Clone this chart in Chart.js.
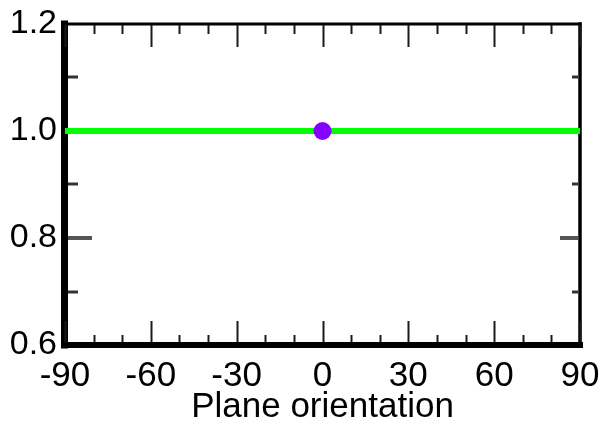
<!DOCTYPE html>
<html>
<head>
<meta charset="utf-8">
<script src="https://cdn.jsdelivr.net/npm/chart.js@4/dist/chart.umd.min.js"></script>
<style>
  html, body { margin: 0; padding: 0; background: #fff; }
  canvas { display: block; }
</style>
</head>
<body>
<canvas id="c" width="600" height="425"></canvas>
<script>
// Orientation sweep and measured ratio
const angles = [-90, 90];
const ratioLine = [1.0, 1.0];
const pointAngle = [0];
const pointRatio = [1.0];

// Axis ticks
const xTicks = [-90, -60, -30, 0, 30, 60, 90];
const xMinorTicks = [-80, -70, -50, -40, -20, -10, 10, 20, 40, 50, 70, 80];
const yTicks = [0.6, 0.8, 1.0, 1.2];
const yMinorTicks = [0.7, 0.9, 1.1];

const FONT = 'Liberation Sans, Arial, sans-serif';

// Frame drawn beneath the data
const framePlugin = {
  id: 'frame',
  beforeDatasetsDraw(chart) {
    const { ctx, chartArea: a } = chart;
    ctx.save();
    ctx.strokeStyle = '#000';
    ctx.lineCap = 'square';
    // top
    ctx.lineWidth = 3;
    ctx.beginPath(); ctx.moveTo(a.left, a.top); ctx.lineTo(a.right, a.top); ctx.stroke();
    // right
    ctx.lineWidth = 3.5;
    ctx.beginPath(); ctx.moveTo(a.right, a.top); ctx.lineTo(a.right, a.bottom); ctx.stroke();
    // left
    ctx.lineWidth = 7;
    ctx.beginPath(); ctx.moveTo(a.left - 0.5, a.top); ctx.lineTo(a.left - 0.5, a.bottom); ctx.stroke();
    // bottom
    ctx.lineWidth = 6;
    ctx.beginPath(); ctx.moveTo(a.left, a.bottom); ctx.lineTo(a.right, a.bottom); ctx.stroke();
    ctx.restore();
  }
};

// Inward tick marks on all four sides, beneath the data
const tickPlugin = {
  id: 'inTicks',
  beforeDatasetsDraw(chart) {
    const { ctx, chartArea: a, scales: { x, y } } = chart;
    ctx.save();
    ctx.strokeStyle = '#1a1a1a';
    ctx.lineWidth = 2;
    const vTick = (px, y0, y1) => { ctx.beginPath(); ctx.moveTo(px, y0); ctx.lineTo(px, y1); ctx.stroke(); };
    const hTick = (py, x0, x1) => { ctx.beginPath(); ctx.moveTo(x0, py); ctx.lineTo(x1, py); ctx.stroke(); };
    xTicks.forEach(v => {
      const px = Math.round(x.getPixelForValue(v)) + 0.5;
      vTick(px, a.bottom - 3, a.bottom - 24);
      vTick(px, a.top + 1, a.top + 23);
    });
    xMinorTicks.forEach(v => {
      const px = Math.round(x.getPixelForValue(v)) + 0.5;
      vTick(px, a.bottom - 3, a.bottom - 10);
      vTick(px, a.top + 1, a.top + 10);
    });
    ctx.strokeStyle = '#555';
    ctx.lineWidth = 4;
    yTicks.forEach(v => {
      const py = Math.round(y.getPixelForValue(v));
      if (v === 0.6 || v === 1.2) return;
      hTick(py, a.left + 3, a.left + 27);
      hTick(py, a.right - 2, a.right - 20);
    });
    ctx.strokeStyle = '#333';
    ctx.lineWidth = 3;
    yMinorTicks.forEach(v => {
      const py = Math.round(y.getPixelForValue(v));
      hTick(py, a.left + 3, a.left + 13);
      hTick(py, a.right - 2, a.right - 8);
    });
    ctx.restore();
  }
};

new Chart(document.getElementById('c'), {
  type: 'scatter',
  data: {
    datasets: [
      {
        type: 'line',
        data: angles.map((a, i) => ({ x: a, y: ratioLine[i] })),
        borderColor: '#00ff00',
        borderWidth: 6,
        pointRadius: 0,
        clip: false,
        order: 2
      },
      {
        data: pointAngle.map((a, i) => ({ x: a, y: pointRatio[i] })),
        backgroundColor: '#8400ff',
        borderColor: '#8400ff',
        pointRadius: 9,
        borderWidth: 0,
        clip: false,
        order: 1
      }
    ]
  },
  options: {
    responsive: false,
    animation: false,
    devicePixelRatio: 1,
    layout: { padding: { top: 24, right: 20, bottom: 0, left: 0 } },
    plugins: { legend: { display: false }, tooltip: { enabled: false } },
    scales: {
      x: {
        type: 'linear',
        min: -90, max: 90,
        grid: { display: false, drawTicks: false },
        border: { display: false },
        afterBuildTicks: s => { s.ticks = xTicks.map(v => ({ value: v })); },
        afterFit: s => { s.height = 80; s.paddingLeft = 0; s.paddingRight = 0; },
        ticks: {
          autoSkip: false, maxRotation: 0, padding: 10,
          color: '#000',
          font: { family: FONT, size: 35 }
        },
        title: {
          display: true,
          text: 'Plane orientation',
          color: '#000',
          padding: 0,
          font: { family: FONT, size: 35, lineHeight: 1 }
        }
      },
      y: {
        type: 'linear',
        min: 0.6, max: 1.2,
        grid: { display: false, drawTicks: false },
        border: { display: false },
        afterBuildTicks: s => { s.ticks = yTicks.map(v => ({ value: v })); },
        afterFit: s => { s.width = 65; s.paddingTop = 0; s.paddingBottom = 0; },
        ticks: {
          autoSkip: false, padding: 8,
          color: '#000',
          font: { family: FONT, size: 34 },
          callback: v => v.toFixed(1)
        }
      }
    }
  },
  plugins: [framePlugin, tickPlugin]
});
</script>
</body>
</html>
